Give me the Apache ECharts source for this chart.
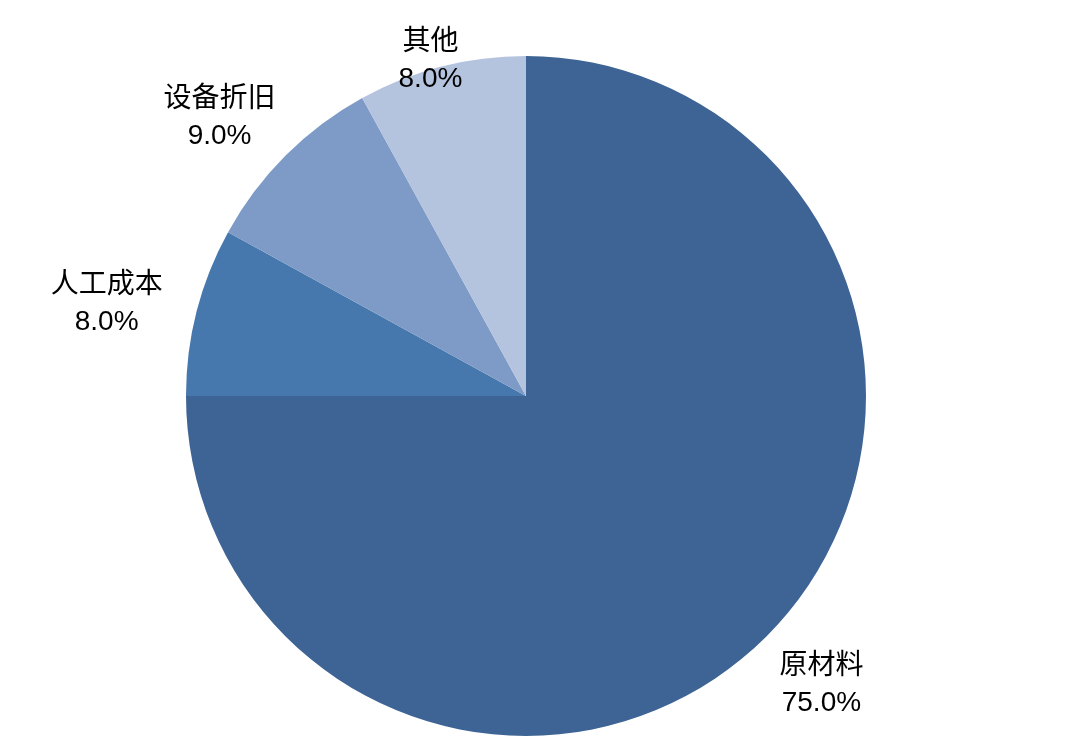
<!DOCTYPE html>
<html><head><meta charset="utf-8">
<script src="https://cdn.jsdelivr.net/npm/echarts@6/dist/echarts.min.js"></script>
<style>html,body{margin:0;padding:0;background:#fff}#c{width:1080px;height:752px}</style>
</head><body><div id="c"></div>
<script>
const categories = ['原材料', '人工成本', '设备折旧', '其他'];
const values = [75.0, 8.0, 9.0, 8.0];
const colors = ['#3d6494', '#4677ad', '#7d9bc6', '#b4c3de'];
// label offsets from the slice's outer-arc midpoint (layout, not data)
const labelOffset = [[55, 48], [-90, -8], [-66, -38], [-11, -6]];

const pieCenter = [526, 396];
const chart = echarts.init(document.getElementById('c'));
chart.setOption({
  animation: false,
  series: [{
    type: 'pie',
    center: pieCenter,
    radius: 340,
    startAngle: 90,
    clockwise: true,
    data: categories.map((n, i) => ({ name: n, value: values[i], itemStyle: { color: colors[i] } })),
    label: {
      show: true,
      position: 'outside',
      formatter: p => p.name + '\n' + p.value.toFixed(1) + '%',
      fontSize: 28,
      lineHeight: 37,
      color: '#000',
      fontFamily: 'Liberation Sans, Noto Sans CJK SC, sans-serif'
    },
    labelLine: { show: true, length: 10, length2: 10, lineStyle: { width: 0, opacity: 0 } },
    labelLayout: function (params) {
      const pts = params.labelLinePoints;
      if (!pts) return {};
      const off = labelOffset[params.dataIndex];
      return {
        x: pts[0][0] + off[0],
        y: pts[0][1] + off[1],
        align: 'center',
        verticalAlign: 'middle'
      };
    },
    emphasis: { disabled: true }
  }]
});
</script></body></html>
